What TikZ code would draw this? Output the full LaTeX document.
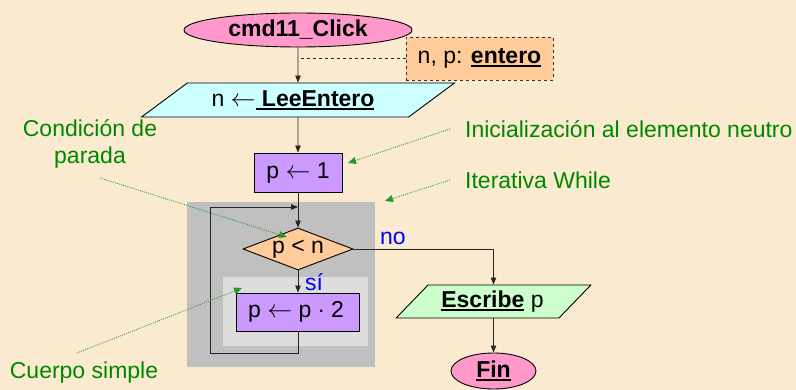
\documentclass[tikz,border=0pt]{standalone}
\usepackage{fontspec}
\setmainfont{Liberation Sans}
\usetikzlibrary{shapes.geometric,arrows.meta}

\definecolor{paper}{RGB}{250,235,208}
\definecolor{termpink}{RGB}{255,153,204}
\definecolor{declorange}{RGB}{255,204,153}
\definecolor{readcyan}{RGB}{204,255,255}
\definecolor{writegreen}{RGB}{204,255,204}
\definecolor{procviolet}{RGB}{204,153,255}
\definecolor{loopgray}{RGB}{192,192,192}
\definecolor{bodygray}{RGB}{221,221,221}
\definecolor{notegreen}{RGB}{0,135,0}
\definecolor{labelblue}{RGB}{0,0,255}

% bold underline bar, as in the flowchart keywords
\newsavebox\ulbox
\newcommand\ulbar[1]{\sbox\ulbox{#1}\rlap{\rule[-3.5pt]{\wd\ulbox}{1.8pt}}\usebox\ulbox}

\begin{document}
\begin{tikzpicture}[x=1pt,y=-1pt,
  every node/.style={font=\fontsize{23}{27}\selectfont, inner sep=0pt},
  term/.style={ellipse, draw=black, line width=0.9pt, fill=termpink},
  decl/.style={rectangle, draw=black!80, dashed, line width=0.9pt, fill=declorange},
  io/.style={trapezium, trapezium stretches=true, draw=black, line width=0.9pt},
  proc/.style={rectangle, draw=black, line width=0.9pt, fill=procviolet},
  cond/.style={diamond, draw=black, line width=0.9pt, fill=declorange},
  flow/.style={draw=black!85, line width=0.9pt},
  arrow/.style={-{Triangle[length=7pt,width=5.5pt]}},
  note/.style={draw=notegreen!85, line width=0.8pt, dash pattern=on 1pt off 1.2pt,
               -{Triangle[length=8pt,width=7pt]}},
  notetext/.style={text=notegreen},
  branch/.style={text=labelblue}
]
% page
\fill[paper] (0,0) rectangle (796,390);
\useasboundingbox (0,0) rectangle (796,390);

% loop frame and body frame
\fill[loopgray] (187,202) rectangle (375,367);
\fill[bodygray] (223,277) rectangle (368,346);

% flowchart blocks
\node[term, minimum width=228pt, minimum height=34pt] (start) at (298,30) {\bfseries cmd11\_Click};
\node[decl, minimum width=147pt, minimum height=43pt] (decl) at (479.5,58.5) {n, p: \ulbar{\bfseries entero}};
\node[io, fill=readcyan, minimum width=313pt, minimum height=34pt,
      trapezium left angle=28.4, trapezium right angle=151.6] (read) at (298,100)
      {n $\leftarrow$\ulbar{\ \bfseries LeeEntero}\hspace*{10pt}};
\node[proc, minimum width=88pt, minimum height=39pt] (init) at (298,172.5) {p $\leftarrow$ 1};
\node[cond, minimum width=110pt, minimum height=42pt, aspect=2.6] (test) at (298,249) {p < n};
\node[proc, minimum width=123pt, minimum height=38pt] (body) at (298,312) {p $\leftarrow$ p $\cdot$ 2\hspace*{4pt}};
\node[io, fill=writegreen, minimum width=195pt, minimum height=33pt,
      trapezium left angle=40.2, trapezium right angle=139.8] (write) at (493.5,301.5)
      {\ulbar{\bfseries Escribe} p\hspace*{2pt}};
\node[term, minimum width=85pt, minimum height=36pt] (end) at (493.5,371) {\ulbar{\bfseries Fin}};

% branch labels
\node[branch, anchor=west] (yes) at (305,282) {sí};
\node[branch] (no) at (393,238) {no};

% connectors
\coordinate (loopjoin) at (298,207);
\draw[flow, arrow] (start.south) -- (read.north);
\draw[flow, dashed] (decl.west) -- (decl.west -| start.south);
\draw[flow, arrow] (read.south) -- (init.north);
\draw[flow, arrow] (init.south) -- (test.north);
\draw[flow, arrow] (test.south) -- (body.north);
\draw[flow, arrow] (body.south) -- (body.south |- 0,353) -| (210,207) -- (loopjoin);
\draw[flow, arrow] (test.east) -| (write.north);
\draw[flow, arrow] (write.south) -- (end.north);

% annotations
\node[notetext, align=center] (stoptxt) at (90,144) {Condición de\\parada};
\node[notetext, anchor=west] (inittxt) at (465,129) {Inicialización al elemento neutro};
\node[notetext, anchor=west] (looptxt) at (465,180) {Iterativa While};
\node[notetext] (bodytxt) at (84,373) {Cuerpo simple};

\coordinate (stopfrom) at (100,178);
\coordinate (stopto) at (287,237);
\coordinate (initfrom) at (450,129);
\coordinate (initto) at (348,163);
\coordinate (loopfrom) at (450,180);
\coordinate (loopto) at (385,201);
\coordinate (bodyfrom) at (77,353);
\coordinate (bodyto) at (242,288);

\draw[note] (stopfrom) -- (stopto);
\draw[note] (initfrom) -- (initto);
\draw[note] (loopfrom) -- (loopto);
\draw[note] (bodyfrom) -- (bodyto);
\end{tikzpicture}
\end{document}
